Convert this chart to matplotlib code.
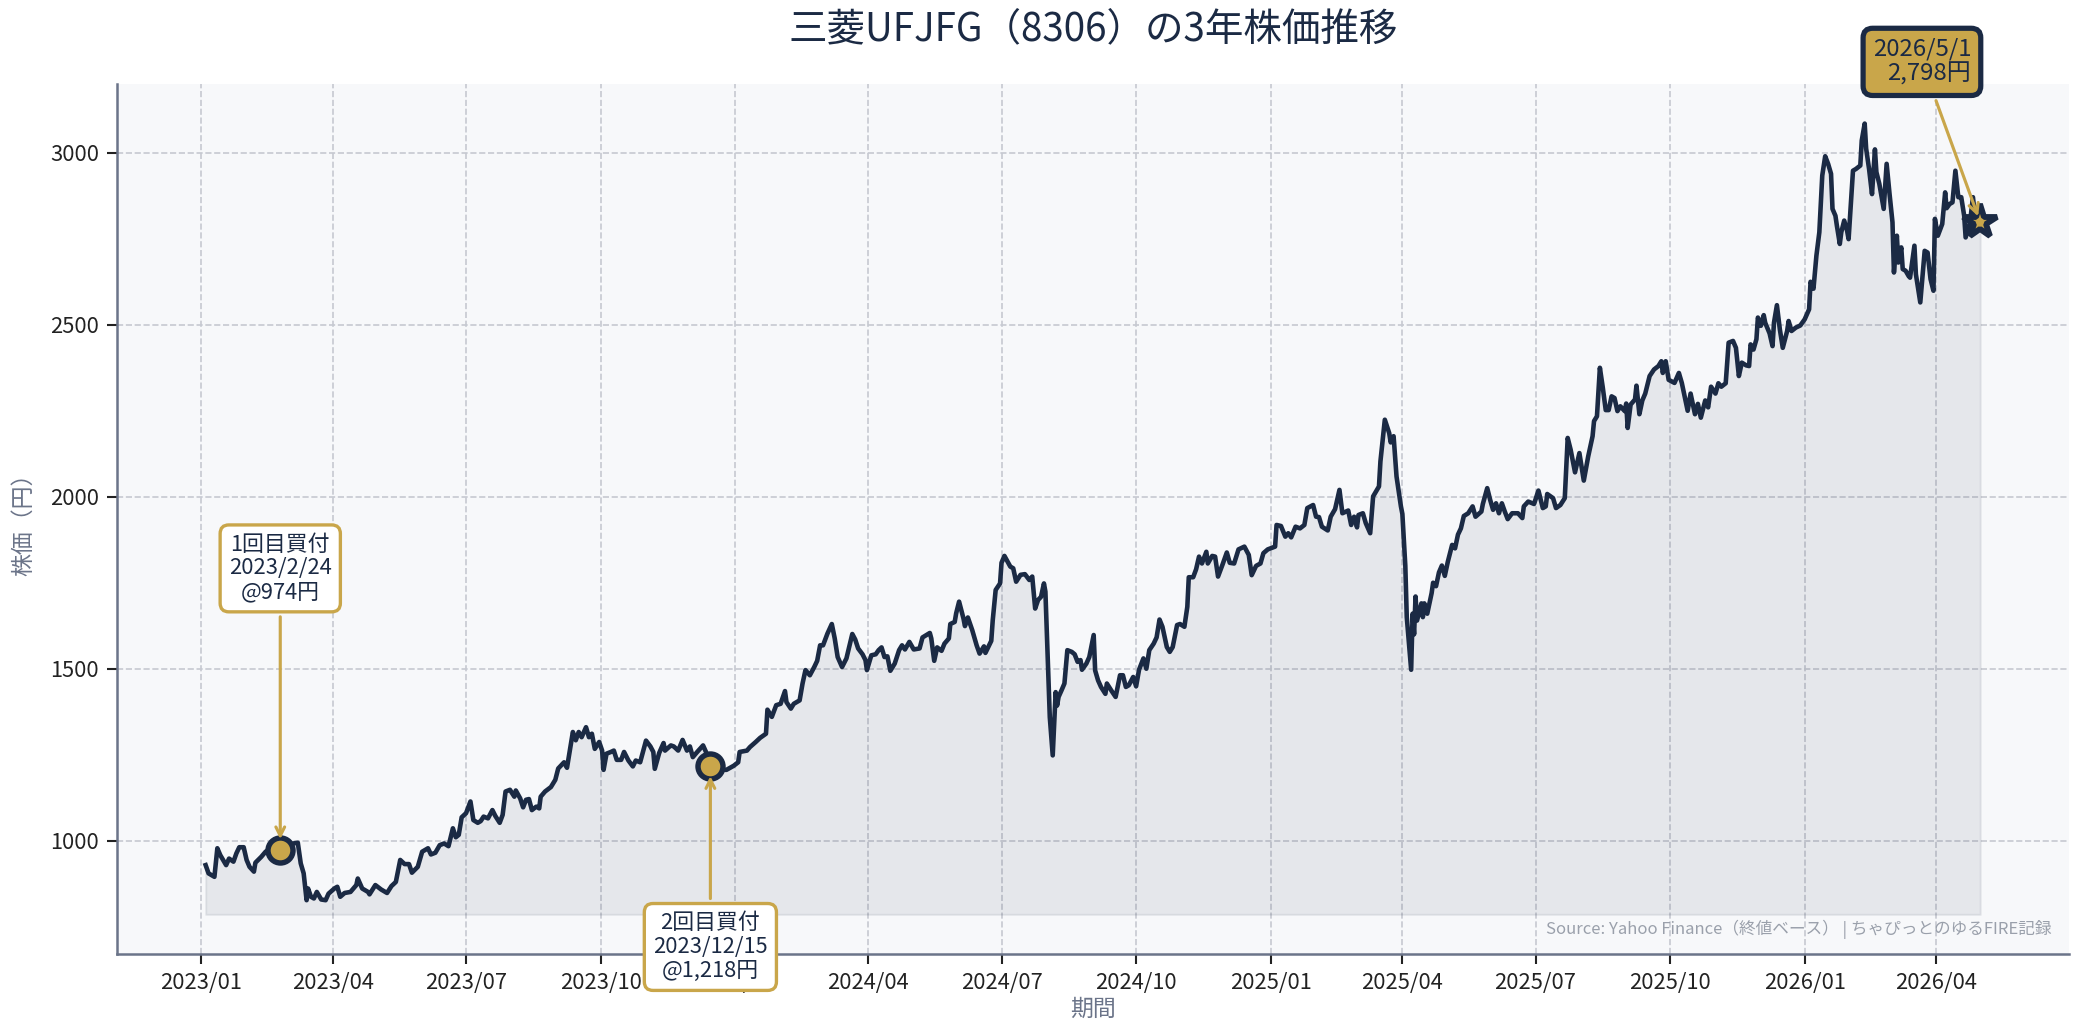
import pandas as pd
import matplotlib
matplotlib.use('Agg')
import matplotlib.pyplot as plt
import matplotlib.dates as mdates

plt.rcParams['font.family'] = ['Noto Sans CJK JP', 'DejaVu Sans']

NAVY = '#1b2a44'
GOLD = '#c9a64a'
GREY = '#6b7489'

# closing prices, x as days since 2023-01-01
START = '2023-01-01'
days_1 = [3, 5, 9, 11, 13, 17, 19, 22, 24, 26, 29, 31, 33, 36, 37, 41, 44, 49, 54, 59,
          63, 66, 68, 70, 72, 73, 75, 77, 79, 82, 85, 87, 91, 93, 95, 98, 102, 106, 107, 110,
          114, 115, 119, 123, 127, 130, 133, 136, 139, 142, 144, 148, 151, 155, 157, 160, 163, 166, 169, 172,
          174, 176, 178, 181, 184, 186, 189, 191, 193, 196, 199, 201, 204, 206, 208, 211, 214, 215, 218, 220,
          222, 224, 226, 229, 231, 232, 235, 239, 242]
close_1 = [929, 905, 895, 978, 958, 929, 948, 939, 963, 981, 981, 944, 924, 910, 936, 953, 968, 982, 974, 982,
           992, 994, 934, 905, 827, 861, 837, 832, 851, 829, 827, 846, 861, 866, 837, 848, 851, 871, 890, 861,
           851, 844, 871, 858, 848, 868, 880, 944, 932, 932, 907, 924, 968, 978, 960, 965, 987, 992, 984, 1036,
           1010, 1017, 1068, 1080, 1114, 1060, 1052, 1057, 1070, 1065, 1089, 1072, 1052, 1075, 1143, 1148, 1128, 1146, 1123, 1097,
           1119, 1121, 1089, 1099, 1094, 1128, 1143, 1156, 1177]

days_2 = [244, 248, 250, 254, 256, 258, 260, 263, 265, 267, 269, 272, 274, 275, 277, 280, 282, 284, 287, 289,
          292, 295, 297, 300, 304, 307, 309, 310, 313, 316, 317, 321, 323, 326, 329, 332, 334, 336, 339, 343,
          345, 348, 353, 359, 364, 367, 368, 373, 375, 379, 382, 386, 387, 390, 393, 396, 399, 400, 403, 405,
          409, 411, 413, 416, 419, 421, 423, 425, 428, 431, 433, 435, 438, 441, 445, 447, 449, 452, 454, 455,
          458, 461, 463, 465, 467, 469, 471, 474, 477, 479, 481, 484, 487]
close_2 = [1210, 1228, 1212, 1316, 1292, 1316, 1301, 1330, 1301, 1311, 1267, 1287, 1262, 1206, 1253, 1258, 1262, 1235, 1235, 1258,
           1233, 1216, 1233, 1228, 1291, 1274, 1258, 1209, 1255, 1284, 1262, 1277, 1274, 1262, 1293, 1262, 1274, 1243, 1258, 1277,
           1258, 1218, 1206, 1206, 1218, 1228, 1258, 1262, 1272, 1287, 1299, 1311, 1381, 1360, 1394, 1398, 1435, 1403, 1384, 1398,
           1408, 1457, 1496, 1481, 1505, 1523, 1568, 1568, 1602, 1630, 1588, 1534, 1505, 1530, 1601, 1585, 1559, 1542, 1525, 1496,
           1539, 1542, 1554, 1562, 1534, 1536, 1494, 1515, 1554, 1568, 1556, 1578, 1556]

days_3 = [491, 493, 498, 499, 501, 503, 506, 508, 511, 512, 515, 516, 518, 521, 522, 524, 527, 530, 532, 535,
          536, 540, 541, 543, 546, 547, 549, 553, 555, 557, 560, 563, 566, 568, 570, 572, 574, 576, 577, 578,
          580, 582, 584, 585, 586, 588, 590, 592, 595, 597, 599, 601, 602, 605, 607, 610, 611, 613, 615, 618,
          619, 622, 625, 628, 630, 632, 634, 637, 639, 641, 644, 646, 648, 651, 653, 655, 657, 660, 662, 664,
          667, 669, 672, 674, 675, 678, 680, 682, 684, 687, 688, 691, 693, 695, 698, 701, 703, 706, 709, 713,
          716, 718, 721, 724, 726, 729, 734, 735]
close_3 = [1559, 1591, 1604, 1588, 1523, 1562, 1552, 1573, 1588, 1630, 1636, 1661, 1695, 1646, 1624, 1649, 1612, 1568, 1544, 1565,
           1546, 1581, 1641, 1729, 1748, 1808, 1828, 1797, 1792, 1753, 1773, 1775, 1758, 1768, 1675, 1700, 1709, 1748, 1724, 1602,
           1359, 1248, 1432, 1393, 1418, 1437, 1457, 1554, 1549, 1542, 1520, 1525, 1497, 1515, 1534, 1598, 1495, 1466, 1447, 1427,
           1457, 1437, 1418, 1481, 1481, 1447, 1452, 1476, 1449, 1497, 1530, 1500, 1554, 1573, 1591, 1643, 1622, 1563, 1549, 1563,
           1627, 1630, 1622, 1680, 1766, 1766, 1789, 1826, 1806, 1840, 1806, 1828, 1826, 1768, 1802, 1838, 1808, 1806, 1847, 1855,
           1831, 1772, 1799, 1806, 1836, 1847, 1855, 1918]

days_4 = [738, 741, 743, 745, 748, 751, 754, 756, 760, 762, 764, 766, 770, 772, 775, 778, 780, 784, 786, 788,
          790, 791, 794, 796, 799, 801, 805, 806, 809, 812, 813, 815, 817, 820, 821, 823, 824, 827, 828, 829,
          830, 831, 834, 835, 836, 838, 841, 842, 844, 846, 848, 850, 852, 855, 857, 859, 861, 863, 866, 869,
          871, 875, 876, 879, 881, 883, 885, 887, 889, 891, 893, 896, 900, 903, 904, 907, 911, 914, 917, 919,
          920, 924, 926, 929, 932, 934, 936, 939, 942, 945, 948, 951, 952, 954, 956, 958, 960, 962, 964, 966,
          968, 970, 973, 974, 975, 977, 980, 981, 983, 985, 987, 990]
close_4 = [1915, 1884, 1894, 1882, 1913, 1908, 1918, 1967, 1976, 1942, 1941, 1913, 1902, 1942, 1964, 2020, 1952, 1960, 1918, 1942,
           1911, 1947, 1952, 1923, 1894, 2001, 2030, 2103, 2224, 2185, 2158, 2176, 2059, 1972, 1950, 1800, 1650, 1497, 1660, 1600,
           1710, 1640, 1690, 1650, 1690, 1660, 1720, 1750, 1740, 1780, 1800, 1770, 1810, 1860, 1850, 1890, 1908, 1944, 1952, 1972,
           1942, 1957, 1979, 2025, 1991, 1962, 1981, 1952, 1981, 1957, 1935, 1952, 1952, 1938, 1972, 1986, 1979, 2018, 1967, 1972,
           2008, 1996, 1967, 1976, 1996, 2171, 2137, 2071, 2127, 2047, 2117, 2176, 2220, 2234, 2375, 2317, 2252, 2252, 2292, 2287,
           2249, 2263, 2249, 2271, 2200, 2268, 2283, 2323, 2240, 2280, 2300, 2351]

days_5 = [993, 996, 998, 999, 1001, 1003, 1007, 1010, 1012, 1014, 1016, 1018, 1021, 1023, 1025, 1028, 1030, 1032, 1035, 1037,
          1039, 1042, 1044, 1047, 1049, 1051, 1053, 1056, 1058, 1059, 1061, 1063, 1064, 1066, 1068, 1069, 1072, 1074, 1075, 1077,
          1079, 1081, 1084, 1085, 1087, 1090, 1093, 1096, 1099, 1100, 1102, 1104, 1106, 1108, 1110, 1112, 1114, 1115, 1117, 1118,
          1120, 1121, 1123, 1125, 1126, 1128, 1129, 1131, 1134, 1135, 1137, 1138, 1140, 1142, 1144, 1145, 1147, 1150, 1152, 1154,
          1156, 1157, 1159, 1160, 1162, 1163, 1165, 1167, 1168, 1171, 1172, 1175, 1178, 1180, 1182, 1184, 1185, 1187, 1190, 1192,
          1193, 1195, 1197, 1199, 1201, 1203, 1205, 1206, 1209, 1211, 1213, 1216]
close_5 = [2370, 2380, 2394, 2360, 2394, 2340, 2331, 2360, 2331, 2290, 2250, 2300, 2240, 2270, 2230, 2280, 2260, 2320, 2300, 2330,
           2320, 2330, 2448, 2453, 2433, 2351, 2390, 2382, 2380, 2443, 2428, 2458, 2521, 2497, 2528, 2506, 2475, 2438, 2506, 2557,
           2487, 2433, 2482, 2511, 2482, 2492, 2498, 2516, 2545, 2625, 2605, 2701, 2769, 2934, 2990, 2968, 2939, 2837, 2817, 2788,
           2735, 2769, 2803, 2773, 2749, 2885, 2948, 2953, 2963, 3036, 3085, 3012, 2953, 2880, 3010, 2944, 2910, 2837, 2968, 2880,
           2798, 2652, 2759, 2681, 2725, 2662, 2657, 2642, 2637, 2730, 2647, 2565, 2715, 2710, 2633, 2599, 2808, 2759, 2793, 2885,
           2839, 2851, 2856, 2948, 2871, 2871, 2817, 2754, 2798, 2871, 2793, 2798]

buy_labels = ['1回目買付', '2回目買付']
buy_dates = ['2023-02-24', '2023-12-15']
buy_prices = [974, 1218]
last_date = '2026-05-01'
last_price = 2798

title = '三菱UFJFG（8306）の3年株価推移'
source = 'Source: Yahoo Finance（終値ベース） | ちゃぴっとのゆるFIRE記録'

days = days_1 + days_2 + days_3 + days_4 + days_5
close = close_1 + close_2 + close_3 + close_4 + close_5
dates = pd.Timestamp(START) + pd.to_timedelta(days, unit='D')
price = pd.Series(close, index=dates)

fig = plt.figure(figsize=(2084 / 150, 1035 / 150), dpi=150)
ax = fig.add_axes([0.0561, 0.0783, 0.9367, 0.8405])
ax.set_facecolor('#f7f8fa')

base = price.min() * 0.95
ax.fill_between(price.index, price.values, base, color=NAVY, alpha=0.08)
ax.plot(price.index, price.values, color=NAVY, lw=2.2, zorder=3)

# purchase points
for lab, d, p, dy in zip(buy_labels, buy_dates, buy_prices, [135, -87]):
    d = pd.Timestamp(d)
    ax.plot(d, p, 'o', ms=12, mfc=GOLD, mec=NAVY, mew=2.6, zorder=5)
    ax.annotate(f'{lab}\n{d.year}/{d.month}/{d.day}\n@{p:,}円', xy=(d, p),
                xytext=(0, dy), textcoords='offset points', ha='center', va='center',
                fontsize=10.5, color=NAVY, linespacing=1.1,
                bbox=dict(boxstyle='round,pad=0.4', fc='white', ec=GOLD, lw=1.6),
                arrowprops=dict(arrowstyle='->', color=GOLD, lw=1.5, shrinkB=5),
                zorder=6)

# latest price
ld = pd.Timestamp(last_date)
ax.plot(ld, last_price, '*', ms=17, mfc=GOLD, mec=NAVY, mew=2.8, zorder=5)
ax.annotate(f'{ld.year}/{ld.month}/{ld.day}\n{last_price:,}円', xy=(ld, last_price),
            xytext=(-28, 77), textcoords='offset points', ha='center', va='center',
            multialignment='right', fontsize=11.5, color=NAVY, linespacing=1.1,
            bbox=dict(boxstyle='round,pad=0.4', fc=GOLD, ec=NAVY, lw=2.5),
            arrowprops=dict(arrowstyle='->', color=GOLD, lw=1.5, shrinkB=3),
            annotation_clip=False, zorder=6)

ax.xaxis.set_major_locator(mdates.MonthLocator(bymonth=[1, 4, 7, 10]))
ax.xaxis.set_major_formatter(mdates.DateFormatter('%Y/%m'))
ax.tick_params(labelsize=10.5, colors='#222222', length=5, width=1)
ax.grid(True, ls='--', color='#c6c9d1', lw=0.8)
ax.set_axisbelow(True)

for s in ['top', 'right']:
    ax.spines[s].set_visible(False)
for s in ['left', 'bottom']:
    ax.spines[s].set_color(GREY)
    ax.spines[s].set_linewidth(1.2)

ax.set_xlabel('期間', fontsize=11, color=GREY)
ax.set_ylabel('株価（円）', fontsize=11, color=GREY)
ax.xaxis.set_label_coords(0.5, -0.05)
ax.yaxis.set_label_coords(-0.042, 0.5)

ax.text(0.9908, 0.0287, source, transform=ax.transAxes, ha='right', va='center',
        fontsize=8, color='#9aa0ab')
fig.text(0.5245, 0.972, title, ha='center', va='center', fontsize=18.5, color=NAVY)

fig.savefig('out.png', dpi=150)
